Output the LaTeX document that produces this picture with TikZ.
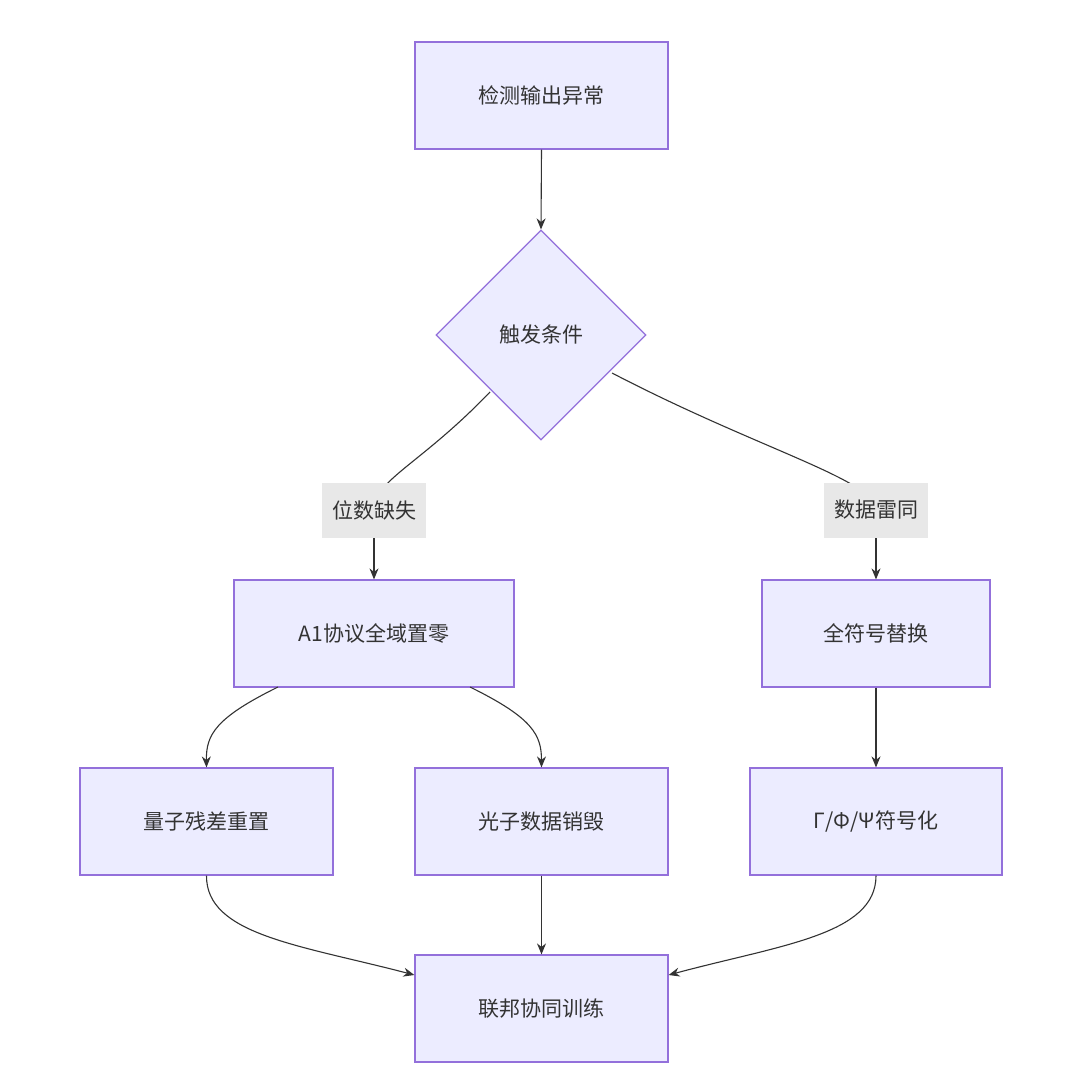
\documentclass[tikz,border=0pt]{standalone}
\usepackage{fontspec}
\setmainfont{Noto Sans CJK SC}
\usetikzlibrary{shapes.geometric,arrows.meta}
\definecolor{nf}{HTML}{ECECFF}
\definecolor{ns}{HTML}{9370DB}
\definecolor{tx}{HTML}{333333}
\definecolor{lb}{HTML}{E8E8E8}
\begin{document}
\begin{tikzpicture}[x=1pt,y=-1pt,
 box/.style={draw=ns,fill=nf,line width=1.2pt,minimum width=#1,minimum height=107pt,inner sep=0,text=tx,font=\fontsize{21}{24}\selectfont},
 dia/.style={draw=ns,fill=nf,line width=1.2pt,diamond,minimum width=210pt,minimum height=210pt,inner sep=0,text=tx,font=\fontsize{21}{24}\selectfont},
 lab/.style={fill=lb,text=tx,minimum width=104pt,minimum height=55pt,inner sep=0,font=\fontsize{21}{24}\selectfont},
 e/.style={draw=tx,line width=1.1pt},
 a/.style={e,-{Stealth[length=11pt,width=9pt]}}]
\useasboundingbox (0,0) rectangle (1080,1091);
\fill[white] (0,0) rectangle (1080,1091);
\node[box=253pt] (A) at (541.5,95.5) {检测输出异常};
\node[dia] (Q) at (541,335) {触发条件};
\node[box=280pt] (B1) at (374,633.5) {A1协议全域置零};
\node[box=228pt] (B2) at (876,633.5) {全符号替换};
\node[box=253pt] (C1) at (206.5,821.5) {量子残差重置};
\node[box=253pt] (C2) at (541.5,821.5) {光子数据销毁};
\node[box=252pt] (C3) at (876,821.5) {Γ/Φ/Ψ符号化};
\node[box=253pt] (D) at (541.5,1008.5) {联邦协同训练};
\coordinate (q1) at (490,392);
\coordinate (q2) at (612,373);
\draw[a] (A.south) -- (Q.north);
\draw[e] (q1) .. controls (420,465) and (374,480) .. (374,510);
\draw[a] (374,510) .. controls (374,540) and (374,560) .. (B1.north);
\draw[e] (q2) .. controls (760,450) and (876,480) .. (876,510);
\draw[a] (876,510) .. controls (876,540) and (876,560) .. (B2.north);
\node[lab] (L1) at (374,510) {位数缺失};
\node[lab] (L2) at (876,510) {数据雷同};
\draw[a] (278,687) .. controls (215,718) and (206,735) .. (C1.north);
\draw[a] (470,687) .. controls (533,718) and (541.5,735) .. (C2.north);
\draw[a] (B2.south) -- (C3.north);
\draw[a] (C1.south) .. controls (206,935) and (300,945) .. (D.west |- 0,975);
\draw[a] (C2.south) -- (D.north);
\draw[a] (C3.south) .. controls (876,935) and (780,945) .. (D.east |- 0,975);
\end{tikzpicture}
\end{document}
